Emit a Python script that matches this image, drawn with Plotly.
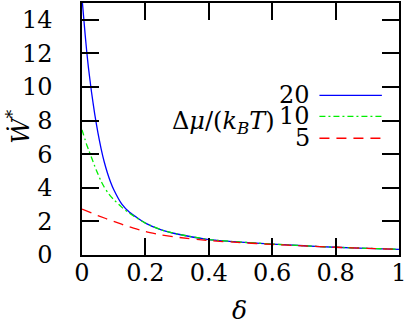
import plotly.graph_objects as go

delta = [0, 0.005, 0.01, 0.015, 0.02, 0.03, 0.04, 0.05, 0.06, 0.07, 0.08, 0.09, 0.1, 0.125, 0.15,
         0.2, 0.25, 0.3, 0.4, 0.5, 0.6, 0.7, 0.8, 0.9, 1.0]
w_20 = [15.3, 14.2, 13.1, 12.1, 11.2, 9.7, 8.4, 7.3, 6.35, 5.55, 4.9, 4.35, 3.9, 3.05, 2.55,
        1.9, 1.5, 1.25, 0.92, 0.77, 0.65, 0.55, 0.46, 0.4, 0.34]
w_10 = [7.45, 7.15, 6.85, 6.55, 6.3, 5.8, 5.3, 4.83, 4.4, 4.05, 3.75, 3.5, 3.3, 2.85, 2.48,
        1.9, 1.5, 1.25, 0.92, 0.77, 0.65, 0.55, 0.46, 0.4, 0.34]
delta_5 = [0, 0.05, 0.1, 0.15, 0.2, 0.25, 0.3, 0.4, 0.5, 0.6, 0.7, 0.8, 0.9, 1.0]
w_5 = [2.73, 2.35, 2.0, 1.67, 1.4, 1.2, 1.06, 0.86, 0.74, 0.63, 0.54, 0.46, 0.4, 0.34]

series_labels = ["20", "10", "5"]
x_ticks = [0, 0.2, 0.4, 0.6, 0.8, 1]
x_ticklabels = ["0", "0.2", "0.4", "0.6", "0.8", "1"]
y_ticks = [0, 2, 4, 6, 8, 10, 12, 14]

FONT = "DejaVu Serif"
FS = 24

fig = go.Figure()
styles = [("#0000ff", "solid"), ("#00ee00", "6px,3px,2px,3px"), ("#ff0000", "10px,7px")]
data = [(delta, w_20), (delta, w_10), (delta_5, w_5)]
for (xs, ys), (c, d) in zip(data, styles):
    fig.add_trace(go.Scatter(x=xs, y=ys, mode="lines", showlegend=False, cliponaxis=True,
                             line=dict(color=c, dash=d, width=1.3, shape="spline", smoothing=0.5)))

leg_y = [9.5, 8.25, 6.95]
for lab, yy, (c, d) in zip(series_labels, leg_y, styles):
    fig.add_annotation(x=0.725, y=yy, xref="x", yref="y", text=lab, showarrow=False,
                       xanchor="right", yanchor="middle", font=dict(family=FONT, size=FS, color="black"))
    fig.add_shape(type="line", x0=0.749, x1=0.946, y0=yy, y1=yy, xref="x", yref="y",
                  line=dict(color=c, dash=d, width=1.3))
fig.add_annotation(x=0.615, y=7.9, xref="x", yref="y",
                   text="Δ<i>μ</i>/(<i>k</i><sub><i>B</i></sub><i>T</i>)", showarrow=False,
                   xanchor="right", yanchor="middle", font=dict(family=FONT, size=FS, color="black"))

fig.add_annotation(x=-0.2, y=0.51, xref="paper", yref="paper", text="<i>Ẇ</i><sup>*</sup>",
                   showarrow=False, textangle=-90, xanchor="center", yanchor="middle",
                   font=dict(family=FONT, size=FS + 1, color="black"))
fig.add_annotation(x=0.497, y=-0.22, xref="paper", yref="paper", text="<i>δ</i>", showarrow=False,
                   xanchor="center", yanchor="middle", font=dict(family=FONT, size=FS + 1, color="black"))

axis_common = dict(showline=True, linecolor="black", linewidth=1.5, mirror="ticks",
                   ticks="inside", ticklen=17, tickwidth=1.5, tickcolor="black",
                   showgrid=False, zeroline=False, ticklabeloverflow="allow",
                   tickfont=dict(family=FONT, size=FS, color="black"))
fig.update_xaxes(range=[0, 1], tickvals=x_ticks, ticktext=x_ticklabels,
                 ticklabelstandoff=-5, **axis_common)
fig.update_yaxes(range=[0, 15], tickvals=y_ticks, ticklabelstandoff=23, **axis_common)

fig.update_layout(width=408, height=325, margin=dict(l=82, r=5, t=1, b=70),
                  plot_bgcolor="white", paper_bgcolor="white")
fig.write_html("out.html", config={"displayModeBar": False},
               post_script="document.body.style.margin='0';")
